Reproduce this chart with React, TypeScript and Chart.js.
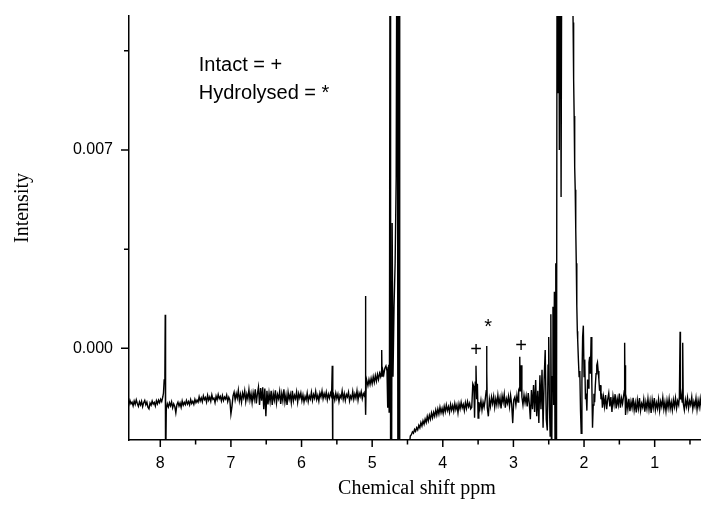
import React, { useEffect, useRef } from 'react';
import { Chart, registerables } from 'chart.js';

Chart.register(...registerables);

// ---- Spectrum data (chemical shift in ppm, intensity) ----
const aromaticPpm = [8.46, 8.445, 8.43, 8.415, 8.40, 8.385, 8.37, 8.355, 8.34, 8.325,
  8.31, 8.295, 8.28, 8.265, 8.25, 8.235, 8.22, 8.205, 8.19, 8.175,
  8.16, 8.145, 8.13, 8.115, 8.10, 8.085, 8.07, 8.055, 8.04, 8.025,
  8.01, 7.995, 7.98, 7.965,
  7.955, 7.945, 7.935, 7.93, 7.925, 7.915];
const aromaticInt = [-0.00188, -0.00199, -0.00184, -0.00196, -0.00190, -0.00203, -0.00186, -0.00198, -0.00182, -0.00195,
  -0.00205, -0.00189, -0.00200, -0.00187, -0.00206, -0.00192, -0.00184, -0.00199, -0.00190, -0.00208,
  -0.00214, -0.00193, -0.00201, -0.00186, -0.00197, -0.00191, -0.00204, -0.00185, -0.00196, -0.00183,
  -0.00192, -0.00180, -0.00188, -0.00172,
  -0.00158, -0.00112, -0.00095, 0.00118, -0.00450, -0.00215];

const region7Ppm = [7.900, 7.885, 7.870, 7.855, 7.840, 7.825, 7.810, 7.795, 7.780, 7.765,
  7.750, 7.735, 7.720, 7.705, 7.690, 7.675, 7.660, 7.645, 7.630, 7.615,
  7.600, 7.585, 7.570, 7.555, 7.540, 7.525, 7.510, 7.495, 7.480, 7.465,
  7.450, 7.435, 7.420, 7.405, 7.390, 7.375, 7.360, 7.345, 7.330, 7.315,
  7.300, 7.285, 7.270, 7.255, 7.240, 7.225, 7.210, 7.195, 7.180, 7.165,
  7.150, 7.135, 7.120, 7.105, 7.090, 7.075, 7.060, 7.045, 7.030, 7.015,
  7.000, 6.985];
const region7Int = [-0.00196, -0.00207, -0.00192, -0.00203, -0.00189, -0.00210, -0.00196, -0.00205, -0.00228, -0.00199,
  -0.00190, -0.00204, -0.00193, -0.00208, -0.00186, -0.00201, -0.00191, -0.00199, -0.00184, -0.00197,
  -0.00188, -0.00200, -0.00181, -0.00195, -0.00187, -0.00198, -0.00180, -0.00192, -0.00183, -0.00190,
  -0.00171, -0.00186, -0.00175, -0.00189, -0.00168, -0.00181, -0.00174, -0.00190, -0.00166, -0.00183,
  -0.00172, -0.00187, -0.00164, -0.00180, -0.00176, -0.00192, -0.00169, -0.00182, -0.00163, -0.00178,
  -0.00170, -0.00186, -0.00167, -0.00184, -0.00172, -0.00179, -0.00165, -0.00188, -0.00173, -0.00182,
  -0.00232, -0.00205];

const region6Ppm = [6.970, 6.955, 6.940, 6.925, 6.910, 6.895, 6.880, 6.865, 6.850, 6.835,
  6.820, 6.805, 6.790, 6.775, 6.760, 6.745, 6.730, 6.715, 6.700, 6.685,
  6.670, 6.655, 6.640, 6.625, 6.610, 6.595, 6.580, 6.565, 6.550, 6.535,
  6.520, 6.505, 6.490, 6.475, 6.460, 6.445, 6.430, 6.415, 6.400, 6.385,
  6.370, 6.355, 6.340, 6.325, 6.310, 6.295, 6.280, 6.265, 6.250, 6.235,
  6.220, 6.205, 6.190, 6.175, 6.160, 6.145, 6.130, 6.115, 6.100, 6.085,
  6.070, 6.055, 6.040, 6.025, 6.010];
const region6Int = [-0.00168, -0.00155, -0.00182, -0.00160, -0.00176, -0.00148, -0.00185, -0.00163, -0.00190, -0.00158,
  -0.00174, -0.00150, -0.00188, -0.00162, -0.00179, -0.00146, -0.00183, -0.00160, -0.00192, -0.00157,
  -0.00180, -0.00145, -0.00195, -0.00160, -0.00137, -0.00200, -0.00140, -0.00185, -0.00138, -0.00215,
  -0.00142, -0.00240, -0.00150, -0.00198, -0.00158, -0.00188, -0.00150, -0.00200, -0.00160, -0.00182,
  -0.00148, -0.00193, -0.00163, -0.00178, -0.00152, -0.00196, -0.00160, -0.00185, -0.00145, -0.00190,
  -0.00165, -0.00200, -0.00155, -0.00180, -0.00162, -0.00192, -0.00150, -0.00186, -0.00166, -0.00178,
  -0.00154, -0.00190, -0.00160, -0.00175, -0.00158];

const region58Ppm = [5.995, 5.980, 5.965, 5.950, 5.935, 5.920, 5.905, 5.890, 5.875, 5.860,
  5.845, 5.830, 5.815, 5.800, 5.785, 5.770, 5.755, 5.740, 5.725, 5.710,
  5.695, 5.680, 5.665, 5.650, 5.635, 5.620, 5.605, 5.590, 5.575, 5.565, 5.560, 5.555];
const region58Int = [-0.00185, -0.00165, -0.00190, -0.00170, -0.00182, -0.00158, -0.00188, -0.00168, -0.00179, -0.00155,
  -0.00184, -0.00163, -0.00176, -0.00152, -0.00181, -0.00166, -0.00186, -0.00158, -0.00172, -0.00150,
  -0.00178, -0.00160, -0.00174, -0.00155, -0.00182, -0.00162, -0.00176, -0.00158, -0.00170, -0.00062, -0.00450, -0.00178];

const region53Ppm = [5.545, 5.530, 5.515, 5.500, 5.485, 5.470, 5.455, 5.440, 5.425, 5.410,
  5.395, 5.380, 5.365, 5.350, 5.335, 5.320, 5.305, 5.290, 5.275, 5.260,
  5.245, 5.230, 5.215, 5.200, 5.185, 5.170, 5.155, 5.140, 5.125, 5.110,
  5.100, 5.095, 5.090, 5.085];
const region53Int = [-0.00165, -0.00183, -0.00158, -0.00177, -0.00162, -0.00188, -0.00166, -0.00175, -0.00150, -0.00180,
  -0.00160, -0.00184, -0.00163, -0.00172, -0.00155, -0.00186, -0.00168, -0.00178, -0.00152, -0.00180,
  -0.00161, -0.00176, -0.00150, -0.00183, -0.00158, -0.00170, -0.00153, -0.00178, -0.00160, -0.00168,
  -0.00150, 0.00185, -0.00235, -0.00125];

const waterPpm = [5.075, 5.060, 5.045, 5.030, 5.015, 5.000, 4.985, 4.970, 4.955, 4.940,
  4.925, 4.910, 4.895, 4.880, 4.870, 4.865, 4.860, 4.850, 4.835, 4.820,
  4.805, 4.790, 4.780, 4.775, 4.765, 4.760, 4.755, 4.745, 4.739, 4.725,
  4.717, 4.705, 4.690, 4.675, 4.660, 4.645, 4.635, 4.620, 4.610, 4.550, 4.480, 4.460];
const waterInt = [-0.00115, -0.00132, -0.00110, -0.00128, -0.00106, -0.00125, -0.00100, -0.00120, -0.00096, -0.00116,
  -0.00092, -0.00110, -0.00088, -0.00100, -0.00082, -0.00006, -0.00098, -0.00076, -0.00092, -0.00070,
  -0.00062, -0.00080, -0.00210, -0.00068, -0.00058, -0.00225, -0.00040, 0.02000, -0.00600, -0.00450,
  0.00442, -0.00100, 0.00150, 0.00300, 0.00600, 0.02000, -0.00700, 0.01500, -0.00800, -0.00600, -0.00360, -0.00310];

const region4Ppm = [4.445, 4.430, 4.415, 4.400, 4.385, 4.370, 4.355, 4.340, 4.325, 4.310,
  4.295, 4.280, 4.265, 4.250, 4.235, 4.220, 4.205, 4.190, 4.175, 4.160,
  4.145, 4.130, 4.115, 4.100, 4.085, 4.070, 4.055, 4.040, 4.025, 4.010,
  3.995, 3.980, 3.965, 3.950, 3.935, 3.920, 3.905, 3.890, 3.875, 3.860,
  3.845, 3.830, 3.815, 3.800, 3.785, 3.770, 3.755, 3.740, 3.725, 3.710,
  3.695, 3.680, 3.665, 3.650, 3.635, 3.620, 3.605];
const region4Int = [-0.00305, -0.00295, -0.00300, -0.00286, -0.00293, -0.00280, -0.00288, -0.00272, -0.00281, -0.00262,
  -0.00274, -0.00256, -0.00268, -0.00250, -0.00262, -0.00240, -0.00256, -0.00236, -0.00250, -0.00228,
  -0.00245, -0.00226, -0.00240, -0.00218, -0.00236, -0.00214, -0.00232, -0.00208, -0.00228, -0.00212,
  -0.00230, -0.00205, -0.00224, -0.00200, -0.00220, -0.00206, -0.00226, -0.00198, -0.00218, -0.00202,
  -0.00222, -0.00195, -0.00216, -0.00200, -0.00228, -0.00196, -0.00214, -0.00190, -0.00210, -0.00198,
  -0.00220, -0.00192, -0.00212, -0.00188, -0.00206, -0.00194, -0.00214];

const region35Ppm = [3.590, 3.575, 3.560, 3.550, 3.540, 3.530, 3.520, 3.510, 3.500, 3.490,
  3.475, 3.460, 3.445, 3.430, 3.415, 3.400, 3.385, 3.380, 3.375, 3.370,
  3.355, 3.340, 3.325, 3.310];
const region35Int = [-0.00208, -0.00125, -0.00135, -0.00245, -0.00120, -0.00062, -0.00180, -0.00125, -0.00246, -0.00190,
  -0.00212, -0.00185, -0.00218, -0.00190, -0.00208, -0.00182, -0.00150, 0.00008, -0.00080, -0.00210,
  -0.00240, -0.00180, -0.00205, -0.00172];

const region3Ppm = [3.295, 3.280, 3.265, 3.250, 3.235, 3.220, 3.205, 3.190, 3.175, 3.160,
  3.145, 3.130, 3.115, 3.100, 3.085, 3.070, 3.055, 3.040, 3.025, 3.010,
  2.995, 2.980, 2.965, 2.950, 2.935, 2.925, 2.915, 2.910, 2.905, 2.895,
  2.890, 2.880, 2.865, 2.850, 2.835, 2.820, 2.805, 2.790, 2.775, 2.760,
  2.745, 2.730, 2.715, 2.700, 2.685, 2.670, 2.655, 2.640, 2.625, 2.610,
  2.595, 2.580, 2.565, 2.550, 2.535, 2.520, 2.510, 2.500, 2.490, 2.480];
const region3Int = [-0.00195, -0.00170, -0.00208, -0.00178, -0.00200, -0.00165, -0.00198, -0.00175, -0.00212, -0.00168,
  -0.00190, -0.00162, -0.00210, -0.00178, -0.00194, -0.00170, -0.00205, -0.00166, -0.00196, -0.00264,
  -0.00182, -0.00172, -0.00200, -0.00165, -0.00190, -0.00147, -0.00140, -0.00030, -0.00150, -0.00120,
  -0.00060, -0.00172, -0.00200, -0.00165, -0.00192, -0.00168, -0.00205, -0.00158, -0.00195, -0.00250,
  -0.00147, -0.00215, -0.00130, -0.00225, -0.00112, -0.00240, -0.00150, -0.00264, -0.00095, -0.00215,
  -0.00076, -0.00280, -0.00110, -0.00006, -0.00250, -0.00290, -0.00060, 0.00040, -0.00200, -0.00310];

const dmsoPpm = [2.47, 2.46, 2.45, 2.44, 2.43, 2.42, 2.41, 2.40, 2.39, 2.38,
  2.37, 2.36, 2.35, 2.34, 2.325, 2.31, 2.25, 2.18, 2.165, 2.16,
  2.155, 2.15, 2.145, 2.14, 2.135, 2.13, 2.125, 2.12, 2.115, 2.11,
  2.105, 2.10, 2.095, 2.09];
const dmsoInt = [0.00120, -0.00450, -0.00100, 0.00147, -0.00200, 0.00200, -0.00380, 0.00300, -0.00450, 0.02000,
  0.00900, 0.02000, 0.00700, 0.02000, 0.00534, 0.02000, 0.02500, 0.02000, 0.01400, 0.01250,
  0.01150, 0.01050, 0.00950, 0.00820, 0.00700, 0.00640, 0.00560, 0.00520, 0.00420, 0.00300,
  0.00220, 0.00150, 0.00060, 0.00030];

const region2Ppm = [2.08, 2.07, 2.06, 2.05, 2.04, 2.03, 2.02, 2.01, 2.00, 1.99,
  1.98, 1.97, 1.96, 1.95, 1.94, 1.93, 1.92, 1.91, 1.90, 1.89,
  1.88, 1.87, 1.86, 1.85, 1.84, 1.83, 1.82, 1.81, 1.80, 1.79,
  1.78, 1.77, 1.76, 1.75, 1.74];
const region2Int = [-0.00040, -0.00100, -0.00080, -0.00220, -0.00300, -0.00120, 0.00040, 0.00080, -0.00100, -0.00040,
  -0.00180, -0.00160, -0.00220, -0.00110, -0.00140, -0.00050, -0.00030, -0.00090, 0.00040, -0.00120,
  -0.00280, -0.00200, -0.00160, -0.00190, -0.00130, -0.00090, -0.00060, -0.00050, -0.00080, -0.00110,
  -0.00150, -0.00130, -0.00180, -0.00160, -0.00210];

const region15Ppm = [1.725, 1.710, 1.695, 1.680, 1.665, 1.650, 1.635, 1.620, 1.605, 1.590,
  1.575, 1.560, 1.545, 1.530, 1.515, 1.500, 1.485, 1.470, 1.455, 1.440,
  1.430, 1.425, 1.420, 1.415, 1.410];
const region15Int = [-0.00172, -0.00205, -0.00165, -0.00215, -0.00180, -0.00158, -0.00205, -0.00172, -0.00225, -0.00170,
  -0.00198, -0.00162, -0.00212, -0.00178, -0.00200, -0.00160, -0.00210, -0.00176, -0.00196, -0.00168,
  -0.00150, 0.00020, -0.00160, -0.00060, -0.00235];

const region1Ppm = [1.395, 1.380, 1.365, 1.350, 1.335, 1.320, 1.305, 1.290, 1.275, 1.260,
  1.245, 1.230, 1.215, 1.200, 1.185, 1.170, 1.155, 1.140, 1.125, 1.110,
  1.095, 1.080, 1.065, 1.050, 1.035, 1.020, 1.005, 0.990, 0.975, 0.960,
  0.945, 0.930, 0.915, 0.900, 0.885, 0.870, 0.855, 0.840, 0.825, 0.810,
  0.795, 0.780, 0.765, 0.750, 0.735, 0.720, 0.705, 0.690, 0.675, 0.660];
const region1Int = [-0.00185, -0.00215, -0.00178, -0.00222, -0.00188, -0.00210, -0.00175, -0.00218, -0.00192, -0.00226,
  -0.00183, -0.00212, -0.00176, -0.00220, -0.00195, -0.00208, -0.00180, -0.00224, -0.00190, -0.00214,
  -0.00178, -0.00216, -0.00186, -0.00228, -0.00182, -0.00210, -0.00176, -0.00218, -0.00193, -0.00212,
  -0.00180, -0.00220, -0.00188, -0.00206, -0.00174, -0.00215, -0.00190, -0.00222, -0.00184, -0.00210,
  -0.00178, -0.00213, -0.00190, -0.00218, -0.00182, -0.00206, -0.00176, -0.00212, -0.00186, -0.00200];

const region05Ppm = [0.650, 0.640, 0.635, 0.625, 0.610, 0.603, 0.595, 0.580, 0.565, 0.550,
  0.535, 0.520, 0.505, 0.490, 0.475, 0.460, 0.445, 0.430, 0.415, 0.400,
  0.385, 0.370, 0.355, 0.340, 0.325, 0.310];
const region05Int = [-0.00170, 0.00058, -0.00180, -0.00160, -0.00190, 0.00020, -0.00195, -0.00218, -0.00182, -0.00205,
  -0.00175, -0.00212, -0.00186, -0.00200, -0.00172, -0.00214, -0.00188, -0.00205, -0.00176, -0.00216,
  -0.00184, -0.00208, -0.00178, -0.00212, -0.00190, -0.00200];

// ---- Axes ----
const xMajorTicks = [1, 2, 3, 4, 5, 6, 7, 8];
const xMinorTicks = [0.5, 1.5, 2.5, 3.5, 4.5, 5.5, 6.5, 7.5];
const yMajorTicks = [0, 0.007];
const yMinorTicks = [0.0035, 0.0105];
const xLimits = [0.344, 8.443];
const yLimits = [-0.003237, 0.01173];
const xTitle = 'Chemical shift ppm';
const yTitle = 'Intensity';

// ---- Annotations ----
const keyLines = ['Intact = +', 'Hydrolysed = *'];
const keyAnchor = { ppm: 7.455, intensity: 0.0098, lineGap: 28.6 };
const peakMarkLabels = ['+', '*', '+'];
const peakMarkPpm = [3.53, 3.357, 2.89];
const peakMarkIntensity = [-0.00006, 0.00075, 0.00008];

const segments: [number[], number[]][] = [
  [aromaticPpm, aromaticInt],
  [region7Ppm, region7Int],
  [region6Ppm, region6Int],
  [region58Ppm, region58Int],
  [region53Ppm, region53Int],
  [waterPpm, waterInt],
  [region4Ppm, region4Int],
  [region35Ppm, region35Int],
  [region3Ppm, region3Int],
  [dmsoPpm, dmsoInt],
  [region2Ppm, region2Int],
  [region15Ppm, region15Int],
  [region1Ppm, region1Int],
  [region05Ppm, region05Int],
];

function buildPoints() {
  const pts: { x: number; y: number }[] = [];
  for (const [p, v] of segments) {
    const n = Math.min(p.length, v.length);
    for (let i = 0; i < n; i++) pts.push({ x: p[i], y: v[i] });
  }
  return pts;
}

const SANS = '"Liberation Sans", Arial, Helvetica, sans-serif';
const SERIF = '"Liberation Serif", "Times New Roman", Times, serif';

const decorPlugin = {
  id: 'decor',
  afterDraw(chart: any) {
    const ctx: CanvasRenderingContext2D = chart.ctx;
    const { left, right, top, bottom } = chart.chartArea;
    const xs = chart.scales.x;
    const ys = chart.scales.y;
    ctx.save();
    ctx.strokeStyle = '#000';
    ctx.lineWidth = 1.5;
    ctx.beginPath();
    for (const v of xMajorTicks) {
      const px = xs.getPixelForValue(v);
      ctx.moveTo(px, bottom);
      ctx.lineTo(px, bottom + 7);
    }
    for (const v of xMinorTicks) {
      const px = xs.getPixelForValue(v);
      ctx.moveTo(px, bottom);
      ctx.lineTo(px, bottom + 4.5);
    }
    for (const v of yMajorTicks) {
      const py = ys.getPixelForValue(v);
      ctx.moveTo(left, py);
      ctx.lineTo(left - 8, py);
    }
    for (const v of yMinorTicks) {
      const py = ys.getPixelForValue(v);
      ctx.moveTo(left, py);
      ctx.lineTo(left - 5, py);
    }
    ctx.stroke();

    ctx.fillStyle = '#000';
    ctx.font = `20px ${SERIF}`;
    ctx.textAlign = 'center';
    ctx.textBaseline = 'alphabetic';
    ctx.fillText(xTitle, (left + right) / 2 + 2, bottom + 54);
    ctx.save();
    ctx.translate(28, (top + bottom) / 2 - 20);
    ctx.rotate(-Math.PI / 2);
    ctx.fillText(yTitle, 0, 0);
    ctx.restore();

    // key text
    ctx.font = `20px ${SANS}`;
    ctx.textAlign = 'left';
    const kx = xs.getPixelForValue(keyAnchor.ppm);
    const ky = ys.getPixelForValue(keyAnchor.intensity);
    keyLines.forEach((t, i) => ctx.fillText(t, kx, ky + i * keyAnchor.lineGap));

    // peak markers
    ctx.textAlign = 'center';
    ctx.textBaseline = 'middle';
    peakMarkLabels.forEach((t, i) => {
      ctx.fillText(t, xs.getPixelForValue(peakMarkPpm[i]), ys.getPixelForValue(peakMarkIntensity[i]));
    });
    ctx.restore();
  },
};

export default function App() {
  const ref = useRef<HTMLCanvasElement>(null);
  useEffect(() => {
    document.body.style.margin = '0';
    const canvas = ref.current!;
    const chart = new Chart(canvas, {
      type: 'line',
      data: {
        datasets: [
          {
            data: buildPoints(),
            borderColor: '#000',
            borderWidth: 1.4,
            pointRadius: 0,
            tension: 0,
            fill: false,
            clip: 0,
          } as any,
        ],
      },
      options: {
        animation: false,
        responsive: false,
        maintainAspectRatio: false,
        devicePixelRatio: 1,
        layout: { padding: { top: 16, left: 0, right: 0, bottom: 0 } },
        plugins: {
          legend: { display: false },
          tooltip: { enabled: false },
          title: { display: false },
        },
        scales: {
          x: {
            type: 'linear',
            reverse: true,
            min: xLimits[0],
            max: xLimits[1],
            grid: { display: false, drawTicks: false },
            border: { display: true, color: '#000', width: 1.5 },
            afterBuildTicks: (s: any) => {
              s.ticks = [...xMinorTicks, ...xMajorTicks].sort((a, b) => a - b).map((v) => ({ value: v }));
            },
            afterFit: (s: any) => {
              s.height = 66;
              s.paddingLeft = 0;
              s.paddingRight = 0;
              s.paddingTop = 0;
              s.paddingBottom = 0;
            },
            ticks: {
              autoSkip: false,
              maxRotation: 0,
              minRotation: 0,
              padding: 13.5,
              color: '#000',
              font: { family: SANS, size: 16 },
              callback: (v: any) => (xMajorTicks.includes(Number(v)) ? String(v) : ''),
            },
          },
          y: {
            type: 'linear',
            min: yLimits[0],
            max: yLimits[1],
            grid: { display: false, drawTicks: false },
            border: { display: true, color: '#000', width: 1.5 },
            afterBuildTicks: (s: any) => {
              s.ticks = [...yMinorTicks, ...yMajorTicks].sort((a, b) => a - b).map((v) => ({ value: v }));
            },
            afterFit: (s: any) => {
              s.width = 129;
              s.paddingLeft = 0;
              s.paddingRight = 0;
              s.paddingTop = 0;
              s.paddingBottom = 0;
            },
            ticks: {
              autoSkip: false,
              padding: 16,
              color: '#000',
              font: { family: SANS, size: 16 },
              callback: (v: any) => (yMajorTicks.includes(Number(v)) ? Number(v).toFixed(3) : ''),
            },
          },
        },
      } as any,
      plugins: [decorPlugin],
    });
    return () => chart.destroy();
  }, []);
  return (
    <div style={{ width: 701, height: 506 }}>
      <canvas ref={ref} width={701} height={506} style={{ display: 'block' }} />
    </div>
  );
}
